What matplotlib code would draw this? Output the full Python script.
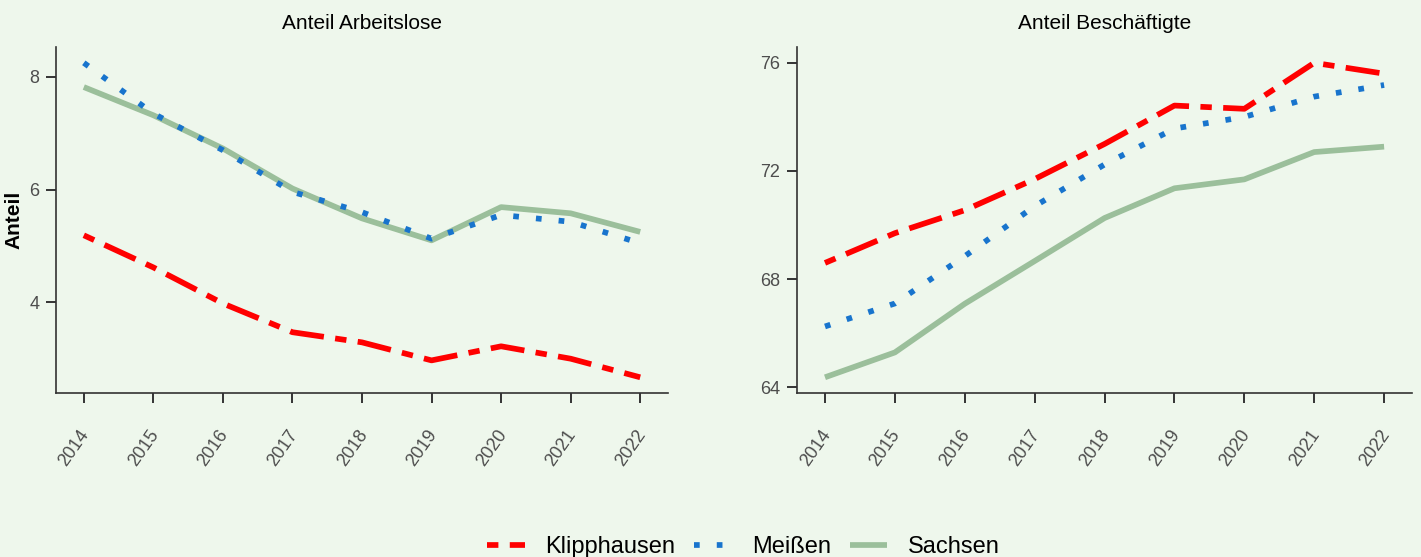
import matplotlib.pyplot as plt
import matplotlib.transforms as mtransforms
from matplotlib.ticker import MultipleLocator

# Werte
jahre = [2014, 2015, 2016, 2017, 2018, 2019, 2020, 2021, 2022]
regionen = ['Klipphausen', 'Meißen', 'Sachsen']
titel = ['Anteil Arbeitslose', 'Anteil Beschäftigte']

arbeitslose_klipphausen = [5.19, 4.62, 3.98, 3.47, 3.29, 2.97, 3.22, 3.00, 2.67]
arbeitslose_meissen = [8.25, 7.35, 6.70, 5.96, 5.60, 5.13, 5.55, 5.43, 5.05]
arbeitslose_sachsen = [7.82, 7.32, 6.73, 6.02, 5.49, 5.10, 5.69, 5.58, 5.25]

beschaeftigte_klipphausen = [68.60, 69.70, 70.55, 71.70, 73.00, 74.42, 74.30, 76.00, 75.60]
beschaeftigte_meissen = [66.25, 67.10, 68.85, 70.70, 72.24, 73.57, 74.00, 74.75, 75.18]
beschaeftigte_sachsen = [64.37, 65.29, 67.09, 68.67, 70.26, 71.36, 71.69, 72.70, 72.90]

farben = {'Klipphausen': '#FF0000', 'Meißen': '#1874CD', 'Sachsen': '#9bbf9b'}
striche = {'Klipphausen': (0, (2, 2, 6, 2)), 'Meißen': (0, (1, 3)), 'Sachsen': '-'}
hintergrund = '#eef7ec'
grau = '#4D4D4D'

plt.rcParams['font.family'] = ['Liberation Sans', 'DejaVu Sans']

fig = plt.figure(figsize=(14.21, 5.57), dpi=100, facecolor=hintergrund)
ax1 = fig.add_axes([0.0394, 0.2944, 0.4307, 0.621])
ax2 = fig.add_axes([0.5609, 0.2944, 0.4328, 0.621])

daten = [
    {'Klipphausen': arbeitslose_klipphausen, 'Meißen': arbeitslose_meissen, 'Sachsen': arbeitslose_sachsen},
    {'Klipphausen': beschaeftigte_klipphausen, 'Meißen': beschaeftigte_meissen, 'Sachsen': beschaeftigte_sachsen},
]

# kleine Verschiebung der gedrehten Jahreszahlen nach links
verschiebung = mtransforms.ScaledTranslation(-5 / 100, 0, fig.dpi_scale_trans)

for ax, werte, t, schritt in zip([ax1, ax2], daten, titel, [2, 4]):
    ax.set_facecolor(hintergrund)
    # Sachsen zuerst, damit die anderen Linien oben liegen
    for region in ['Sachsen', 'Meißen', 'Klipphausen']:
        ax.plot(jahre, werte[region], color=farben[region], linestyle=striche[region],
                linewidth=4.1, dash_capstyle='butt', solid_capstyle='butt',
                solid_joinstyle='round', dash_joinstyle='round', label=region)
    ax.margins(x=0.05, y=0.05)
    ax.set_title(t, fontsize=15, pad=13)
    ax.set_xticks(jahre)
    ax.set_xticklabels([str(j) for j in jahre], rotation=55, ha='right', va='top',
                       rotation_mode='anchor')
    ax.yaxis.set_major_locator(MultipleLocator(schritt))
    ax.tick_params(axis='both', labelsize=13, labelcolor=grau, color='#333333',
                   length=7, width=1.4, direction='out')
    ax.tick_params(axis='x', pad=17)
    ax.tick_params(axis='y', pad=5)
    # erst nach tick_params, sonst wird die Transformation zurückgesetzt
    for lbl in ax.get_xticklabels():
        lbl.set_transform(lbl.get_transform() + verschiebung)
    for s in ['top', 'right']:
        ax.spines[s].set_visible(False)
    for s in ['left', 'bottom']:
        ax.spines[s].set_color('#333333')
        ax.spines[s].set_linewidth(1.2)

ax1.set_ylabel('Anteil', fontsize=15, fontweight='bold')
ax1.yaxis.set_label_coords(-0.053, 0.5)

handles, labels = ax1.get_legend_handles_labels()
reihenfolge = [labels.index(r) for r in regionen]
fig.legend([handles[i] for i in reihenfolge], [labels[i] for i in reihenfolge],
           loc='center', bbox_to_anchor=(0.523, 0.018), ncol=3, frameon=False,
           fontsize=17, handlelength=1.6, handletextpad=0.85, columnspacing=0.8)

plt.savefig('out.png', dpi=100, facecolor=hintergrund)
